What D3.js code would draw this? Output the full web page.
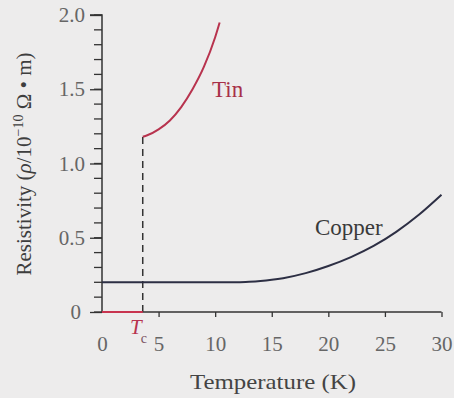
<!DOCTYPE html>
<html><head><meta charset="utf-8">
<script src="https://cdn.jsdelivr.net/npm/d3@7"></script>
<style>
html,body{margin:0;padding:0;background:#edecec;}
svg{display:block;}
text{font-family:"Liberation Serif","Times New Roman",serif;}
</style></head>
<body>
<svg id="c" width="454" height="398"></svg>
<script>
// ---- data ----
const tinSuperT = [0, 3.6];
const tinSuperRho = [0, 0];
const tinT   = [3.6, 4, 5, 6, 7, 8, 9, 10, 10.4];
const tinRho = [1.18, 1.19, 1.23, 1.29, 1.38, 1.50, 1.65, 1.85, 1.95];
const copperT   = [0, 5, 10, 12, 13, 14, 15, 16, 18, 20, 22, 24, 26, 28, 30];
const copperRho = [0.2, 0.2, 0.2, 0.201, 0.204, 0.209, 0.217, 0.228, 0.262, 0.31, 0.37, 0.445, 0.54, 0.655, 0.79];
const Tc = 3.6;
const xTicks = [0, 5, 10, 15, 20, 25, 30];
const yTicks = [0, 0.5, 1.0, 1.5, 2.0];
const yTickLabels = ["0", "0.5", "1.0", "1.5", "2.0"];
const yMinor = d3.range(0, 2.001, 0.1);

const svg = d3.select("#c");
const x = d3.scaleLinear().domain([0, 30]).range([102, 441.5]);
const y = d3.scaleLinear().domain([0, 2]).range([312, 15]);

const axisCol = "#333";
const tickTextCol = "#666";

// minor y ticks
svg.append("g").selectAll("line").data(yMinor).join("line")
  .attr("x1", x(0) - 8).attr("x2", x(0))
  .attr("y1", d => y(d)).attr("y2", d => y(d))
  .attr("stroke", axisCol).attr("stroke-width", 1.3);

// y axis
const yAxis = d3.axisLeft(y).tickValues(yTicks)
  .tickFormat((d, i) => yTickLabels[i]).tickSize(12).tickPadding(5);
const gy = svg.append("g").attr("transform", `translate(${x(0)},0)`).call(yAxis);
gy.select(".domain").attr("stroke", axisCol).attr("stroke-width", 1.5).attr("d", `M-12,${y(2)}H0V${y(0)}`);
gy.selectAll(".tick line").attr("stroke", axisCol).attr("stroke-width", 1.3);
gy.selectAll(".tick text").attr("fill", tickTextCol).attr("font-size", 21)
  .attr("font-family", '"Liberation Serif",serif');
gy.selectAll(".tick").filter(d => d === 0).select("text").attr("dx", -4);

// x axis
const xAxis = d3.axisBottom(x).tickValues(xTicks).tickFormat(d3.format("d")).tickSize(5).tickPadding(19);
const gx = svg.append("g").attr("transform", `translate(0,${y(0)})`).call(xAxis);
gx.select(".domain").attr("stroke", axisCol).attr("stroke-width", 1.5).attr("d", `M${x(0)},0H${x(30)}`);
gx.selectAll(".tick line").attr("stroke", axisCol).attr("stroke-width", 1.3);
gx.selectAll(".tick").filter(d => d === 0).select("line").remove();
gx.selectAll(".tick text").attr("fill", tickTextCol).attr("font-size", 21)
  .attr("font-family", '"Liberation Serif",serif');

// Tc dashed line
svg.append("line")
  .attr("x1", x(Tc)).attr("x2", x(Tc))
  .attr("y1", y(0)).attr("y2", y(tinRho[0]))
  .attr("stroke", "#333").attr("stroke-width", 1.5).attr("stroke-dasharray", "7,5");

const line = d3.line().x(d => x(d[0])).y(d => y(d[1])).curve(d3.curveMonotoneX);

// copper
svg.append("path").datum(copperT.map((t, i) => [t, copperRho[i]]))
  .attr("d", line).attr("fill", "none").attr("stroke", "#2d2f44").attr("stroke-width", 2);

// tin superconducting part
svg.append("path").datum(tinSuperT.map((t, i) => [t, tinSuperRho[i]]))
  .attr("d", d3.line().x(d => x(d[0])).y(d => y(d[1]))).attr("fill", "none")
  .attr("stroke", "#c8344f").attr("stroke-width", 2.2);

// tin normal
svg.append("path").datum(tinT.map((t, i) => [t, tinRho[i]]))
  .attr("d", line).attr("fill", "none").attr("stroke", "#b8334e").attr("stroke-width", 2);

// labels
svg.append("text").attr("x", 212).attr("y", 97).attr("font-size", 23).attr("fill", "#a83048").text("Tin");
svg.append("text").attr("x", 315).attr("y", 235).attr("font-size", 23).attr("fill", "#3a3a3a").text("Copper");

const tc = svg.append("text").attr("x", 130).attr("y", 334).attr("font-size", 21).attr("fill", "#b8334e");
tc.append("tspan").attr("font-style", "italic").text("T");
tc.append("tspan").attr("font-size", 14).attr("dy", 9).attr("dx", -1).attr("fill", "#7a5060").text("c");

svg.append("text").attr("x", 273).attr("y", 389)
  .attr("text-anchor", "middle").attr("font-size", 22).attr("fill", "#444")
  .attr("textLength", 166).attr("lengthAdjust", "spacingAndGlyphs").text("Temperature (K)");

const yt = svg.append("text").attr("transform", "translate(31,164) rotate(-90)")
  .attr("text-anchor", "middle").attr("font-size", 21).attr("fill", "#3e3e3e");
yt.append("tspan").text("Resistivity (");
yt.append("tspan").attr("font-style", "italic").text("ρ");
yt.append("tspan").text("/10");
yt.append("tspan").attr("font-size", 14).attr("dy", -8).text("−10");
yt.append("tspan").attr("dy", 8).text(" Ω • m)");
</script>
</body></html>
